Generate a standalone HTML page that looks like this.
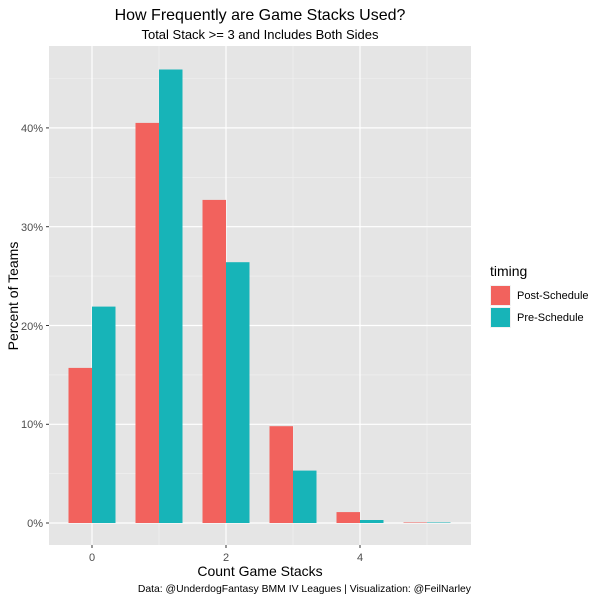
<!DOCTYPE html>
<html><head><style>body{margin:0;background:#fff}</style></head><body>
<svg width="600" height="600" xmlns="http://www.w3.org/2000/svg" font-family="Liberation Sans, sans-serif">
<rect width="600" height="600" fill="#fff"/>
<rect x="49" y="46" width="422" height="499" fill="#e5e5e5"/>
<g stroke="#f2f2f2" stroke-width="0.6">
<line x1="49" x2="471" y1="473.7" y2="473.7"/><line x1="49" x2="471" y1="374.9" y2="374.9"/><line x1="49" x2="471" y1="276.1" y2="276.1"/><line x1="49" x2="471" y1="177.3" y2="177.3"/><line x1="49" x2="471" y1="78.5" y2="78.5"/>
<line y1="46" y2="545" x1="159" x2="159"/><line y1="46" y2="545" x1="293" x2="293"/><line y1="46" y2="545" x1="427" x2="427"/>
</g>
<g stroke="#fff" stroke-width="1.2">
<line x1="49" x2="471" y1="523" y2="523"/><line x1="49" x2="471" y1="424.3" y2="424.3"/><line x1="49" x2="471" y1="325.5" y2="325.5"/><line x1="49" x2="471" y1="226.7" y2="226.7"/><line x1="49" x2="471" y1="127.9" y2="127.9"/>
<line y1="46" y2="545" x1="92" x2="92"/><line y1="46" y2="545" x1="226" x2="226"/><line y1="46" y2="545" x1="360" x2="360"/>
</g>
<g fill="#f2625d">
<rect x="68.5" y="367.9" width="23.5" height="155.1"/>
<rect x="135.5" y="122.9" width="23.5" height="400.1"/>
<rect x="202.5" y="199.9" width="23.5" height="323.1"/>
<rect x="269.5" y="426.2" width="23.5" height="96.8"/>
<rect x="336.5" y="512.1" width="23.5" height="10.9"/>
<rect x="403.5" y="522.5" width="23.5" height="0.5"/>
</g>
<g fill="#17b4b8">
<rect x="92" y="306.6" width="23.5" height="216.4"/>
<rect x="159" y="69.5" width="23.5" height="453.5"/>
<rect x="226" y="262.2" width="23.5" height="260.8"/>
<rect x="293" y="470.6" width="23.5" height="52.4"/>
<rect x="360" y="520" width="23.5" height="3"/>
<rect x="427" y="522.5" width="23.5" height="0.5"/>
</g>
<g stroke="#333" stroke-width="1">
<line x1="46" x2="49" y1="523" y2="523"/><line x1="46" x2="49" y1="424.3" y2="424.3"/><line x1="46" x2="49" y1="325.5" y2="325.5"/><line x1="46" x2="49" y1="226.7" y2="226.7"/><line x1="46" x2="49" y1="127.9" y2="127.9"/>
<line y1="545" y2="548" x1="92" x2="92"/><line y1="545" y2="548" x1="226" x2="226"/><line y1="545" y2="548" x1="360" x2="360"/>
</g>
<g font-size="11" fill="#4d4d4d" text-anchor="end">
<text x="43" y="527">0%</text><text x="43" y="428">10%</text><text x="43" y="330">20%</text><text x="43" y="231">30%</text><text x="43" y="132">40%</text>
</g>
<g font-size="11" fill="#4d4d4d" text-anchor="middle">
<text x="92" y="561">0</text><text x="226" y="561">2</text><text x="360" y="561">4</text>
</g>
<text x="260" y="576" font-size="14" text-anchor="middle">Count Game Stacks</text>
<text x="18" y="296" font-size="14" text-anchor="middle" transform="rotate(-90 18 296)">Percent of Teams</text>
<text x="260" y="20" font-size="16" text-anchor="middle">How Frequently are Game Stacks Used?</text>
<text x="260" y="39" font-size="13" text-anchor="middle">Total Stack &gt;= 3 and Includes Both Sides</text>
<text x="471" y="592" font-size="10.4" text-anchor="end">Data: @UnderdogFantasy BMM IV Leagues | Visualization: @FeilNarley</text>
<text x="490" y="276" font-size="14">timing</text>
<rect x="490" y="285" width="21" height="21" fill="#f2f2f2"/><rect x="491" y="286" width="19" height="19" fill="#f2625d"/>
<rect x="490" y="307" width="21" height="21" fill="#f2f2f2"/><rect x="491" y="308" width="19" height="19" fill="#17b4b8"/>
<text x="517" y="299" font-size="11">Post-Schedule</text>
<text x="517" y="321" font-size="11">Pre-Schedule</text>
</svg>
</body></html>
